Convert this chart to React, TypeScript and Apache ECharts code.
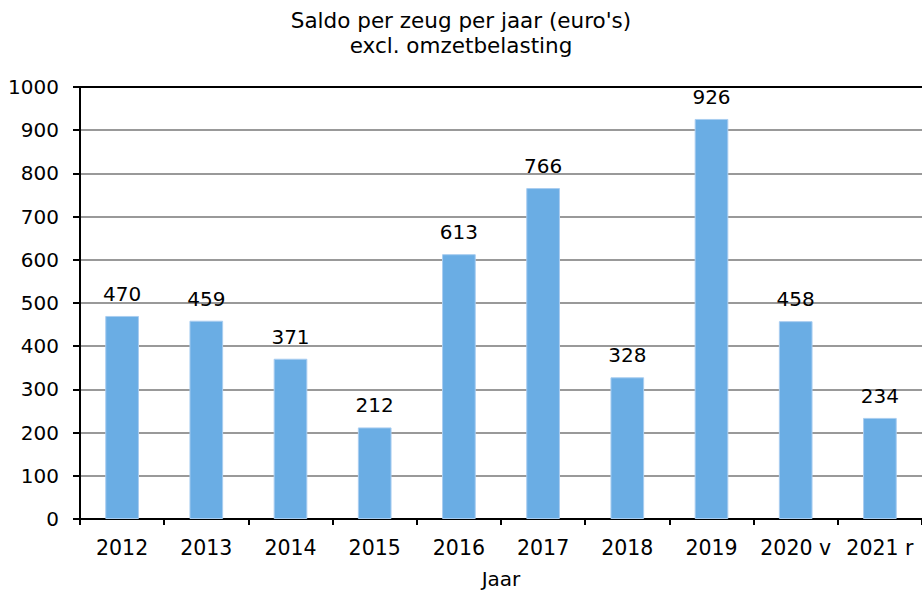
import React, { useEffect, useRef } from "react";
import * as echarts from "echarts";

const categories = ["2012", "2013", "2014", "2015", "2016", "2017", "2018", "2019", "2020 v", "2021 r"];
const values = [470, 459, 371, 212, 613, 766, 328, 926, 458, 234];
const titleLines = ["Saldo per zeug per jaar (euro's)", "excl. omzetbelasting"];
const xName = "Jaar";

const FONT = "DejaVu Sans";

export default function App() {
  const ref = useRef<HTMLDivElement>(null);
  useEffect(() => {
    const chart = echarts.init(ref.current!, null, { renderer: "svg" });
    chart.setOption({
      animation: false,
      backgroundColor: "#ffffff",
      textStyle: { fontFamily: FONT },
      title: {
        text: titleLines.join("\n"),
        left: "center",
        top: 3,
        textStyle: { fontFamily: FONT, fontSize: 21.5, fontWeight: "normal", color: "#000", lineHeight: 25 },
      },
      grid: { left: 80, right: 0, top: 87, bottom: 72, outerBoundsMode: "none", containLabel: false },
      xAxis: [
        {
          type: "category",
          data: categories,
          name: xName,
          nameLocation: "middle",
          nameGap: 50,
          nameTextStyle: { fontFamily: FONT, fontSize: 20, color: "#000" },
          axisLine: { lineStyle: { color: "#000", width: 2 } },
          axisTick: { show: true, alignWithLabel: false, interval: 0, length: 6, lineStyle: { color: "#000", width: 2 } },
          axisLabel: { fontFamily: FONT, fontSize: 20.5, color: "#000", margin: 18, interval: 0 },
        },
        {
          type: "category",
          data: categories,
          position: "top",
          axisLine: { lineStyle: { color: "#000", width: 2 } },
          axisTick: { show: false },
          axisLabel: { show: false },
        },
      ],
      yAxis: {
        type: "value",
        min: 0,
        max: 1000,
        interval: 100,
        axisLine: { show: true, lineStyle: { color: "#000", width: 2 } },
        axisTick: { show: true, inside: false, length: 7, lineStyle: { color: "#000", width: 2 } },
        axisLabel: { fontFamily: FONT, fontSize: 20, color: "#000", margin: 21, formatter: (v: number) => String(v) },
        splitLine: { lineStyle: { color: "#999", width: 2 } },
      },
      series: [
        {
          type: "bar",
          data: values,
          barWidth: "40%",
          itemStyle: { color: "#6aade4", borderColor: "#a9cdf0", borderWidth: 1 },
          label: {
            show: true,
            position: "top",
            distance: 12,
            fontFamily: FONT,
            fontSize: 20,
            color: "#000",
          },
        },
      ],
    });
    return () => chart.dispose();
  }, []);
  return <div ref={ref} style={{ width: 922, height: 591, position: "absolute", left: 0, top: 0 }} />;
}
